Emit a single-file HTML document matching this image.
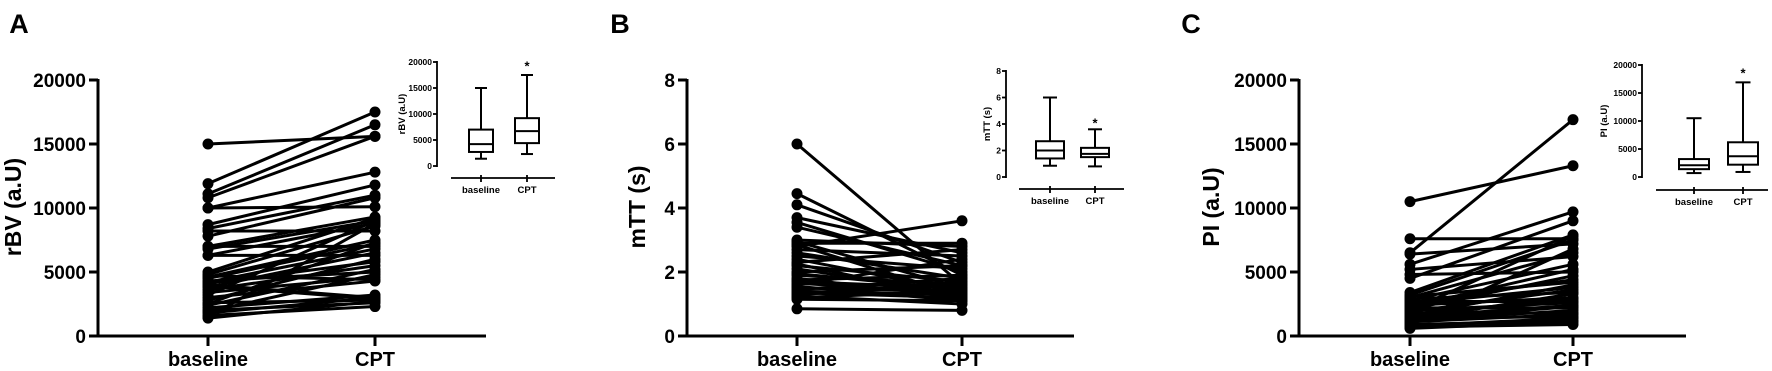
<!DOCTYPE html>
<html><head><meta charset="utf-8"><style>
html,body{margin:0;padding:0;background:#fff;}
svg{display:block;}
text{font-family:"Liberation Sans",Arial,sans-serif;font-weight:bold;fill:#000;}
</style></head><body>
<svg id="s" width="1772" height="371" viewBox="0 0 1772 371" xmlns="http://www.w3.org/2000/svg"></svg>
<script>
const S=document.getElementById('s');let h='';
function L(x1,y1,x2,y2,w){h+=`<line x1="${x1}" y1="${y1}" x2="${x2}" y2="${y2}" stroke="#000" stroke-width="${w}"/>`;}
function T(x,y,t,sz,anc,extra){h+=`<text x="${x}" y="${y}" font-size="${sz}" text-anchor="${anc||'middle'}" ${extra||''}>${t}</text>`;}
function panel(o){
 const top=80,zero=336,ax=o.ax;
 const Y=v=>zero-(zero-top)*v/o.max;
 T(o.lx,33,o.letter,27,'middle');
 L(ax,top-1,ax,zero+1.5,3);L(ax-1.5,zero,o.xe,zero,3);
 o.ticks.forEach(v=>{L(ax-9,Y(v),ax,Y(v),3);T(ax-12,Y(v)+7,v,19,'end');});
 L(o.b,zero,o.b,zero+10,3);L(o.c,zero,o.c,zero+10,3);
 T(o.b,366,'baseline',20);T(o.c,366,'CPT',20);
 h+=`<text x="0" y="0" font-size="23" text-anchor="middle" transform="translate(${o.tx},${(top+zero)/2-1}) rotate(-90)">${o.title}</text>`;
 o.data.forEach(p=>L(o.b,Y(p[0]),o.c,Y(p[1]),3));
 o.data.forEach(p=>{h+=`<circle cx="${o.b}" cy="${Y(p[0])}" r="5.5"/><circle cx="${o.c}" cy="${Y(p[1])}" r="5.5"/>`;});
 const I=o.ins,iy=v=>I.z-(I.z-I.t)*v/o.max;
 L(I.ax,I.t-1,I.ax,I.z+1,1.8);
 o.ticks.forEach(v=>{L(I.ax-4,iy(v),I.ax,iy(v),1.8);T(I.ax-5,iy(v)+3,v,8.5,'end');});
 h+=`<text x="0" y="0" font-size="9.5" text-anchor="middle" transform="translate(${I.tx},${(I.t+I.z)/2}) rotate(-90)">${o.title}</text>`;
 L(I.l1,I.ly,I.l2,I.ly,1.8);
 [[I.b,o.bb],[I.c,o.cb]].forEach(q=>{
  const x=q[0],d=q[1],hw=I.hw;
  L(x,I.ly-3,x,I.ly+4,1.8);
  L(x,iy(d[0]),x,iy(d[1]),2);L(x,iy(d[3]),x,iy(d[4]),2);
  L(x-hw/2,iy(d[0]),x+hw/2,iy(d[0]),2);L(x-hw/2,iy(d[4]),x+hw/2,iy(d[4]),2);
  h+=`<rect x="${x-hw}" y="${iy(d[3])}" width="${2*hw}" height="${iy(d[1])-iy(d[3])}" fill="#fff" stroke="#000" stroke-width="2"/>`;
  L(x-hw,iy(d[2]),x+hw,iy(d[2]),2);
 });
 T(I.c,iy(o.star)+5,'*',13);
 T(I.b,I.ly+15,'baseline',9.5);T(I.c,I.ly+15,'CPT',9.5);
}
panel({letter:'A',lx:19,ax:98,xe:486,b:208,c:375,tx:21,title:'rBV (a.U)',max:20000,ticks:[0,5000,10000,15000,20000],
 data:[[15000,15600],[11900,17500],[11100,16500],[10800,15600],[10000,12800],[10000,10100],[8700,11800],[8400,11000],[8200,8200],[7800,10800],[7000,9300],[7000,7000],[6800,9000],[6300,8800],[6300,6300],[5000,9200],[4800,8600],[4600,7500],[4500,7200],[4300,5000],[4200,6800],[4000,3000],[3800,6500],[3600,5500],[3400,4600],[3200,9000],[3000,4300],[2600,2800],[2400,5200],[2200,3200],[2000,2600],[1800,3000],[1600,2300],[1500,8800],[1400,2700],[4100,5800],[2800,6000],[3900,2900],[4700,4400],[2500,7300],[1900,4800]],
 bb:[1400,2700,4200,7000,15000],cb:[2300,4400,6700,9200,17500],star:19300,
 ins:{ax:437,t:62,z:166,tx:405,l1:451,l2:555,ly:178,b:481,c:527,hw:12}});
panel({letter:'B',lx:620,ax:687,xe:1074,b:797,c:962,tx:645,title:'mTT (s)',max:8,ticks:[0,2,4,6,8],
 data:[[6.0,1.6],[4.45,1.9],[4.1,2.3],[3.7,2.6],[3.55,2.0],[3.4,2.2],[3.0,2.8],[2.95,1.5],[2.9,2.9],[2.8,3.6],[2.7,2.5],[2.6,1.8],[2.5,2.1],[2.4,1.4],[2.3,2.7],[2.2,1.7],[2.1,1.3],[2.0,2.2],[1.9,1.6],[1.8,1.2],[1.75,1.9],[1.7,1.5],[1.6,2.4],[1.55,1.1],[1.5,1.4],[1.45,1.8],[1.4,1.3],[1.35,1.2],[1.3,1.6],[1.25,1.0],[1.2,1.4],[1.15,1.1],[0.85,0.8],[2.85,1.25],[1.65,1.35],[1.95,1.45],[2.25,1.15],[1.28,1.7]],
 bb:[0.85,1.4,2.0,2.7,6.0],cb:[0.8,1.5,1.75,2.2,3.6],star:4.1,
 ins:{ax:1006,t:71,z:177,tx:990,l1:1019,l2:1124,ly:189,b:1050,c:1095,hw:14}});
panel({letter:'C',lx:1191,ax:1299,xe:1686,b:1410,c:1573,tx:1219,title:'PI (a.U)',max:20000,ticks:[0,5000,10000,15000,20000],
 data:[[10500,13300],[6500,16900],[7600,7600],[6400,7200],[5600,9700],[5200,6200],[4800,5000],[4500,9000],[3400,7900],[3200,7500],[3100,4200],[3000,6500],[2900,3400],[2800,5600],[2700,2700],[2600,4400],[2500,3800],[2400,3000],[2300,5200],[2200,2200],[2100,4700],[2000,2600],[1900,3600],[1800,1800],[1700,2900],[1600,4000],[1500,2400],[1400,1500],[1300,3300],[1200,2000],[1100,1700],[1000,6800],[900,1200],[800,1400],[700,900],[600,1100],[2000,7800],[1300,2300]],
 bb:[700,1400,2100,3200,10500],cb:[900,2200,3700,6200,16900],star:18700,
 ins:{ax:1642,t:65,z:177,tx:1607,l1:1656,l2:1768,ly:190,b:1694,c:1743,hw:15}});
S.innerHTML=h;
</script>
</body></html>
